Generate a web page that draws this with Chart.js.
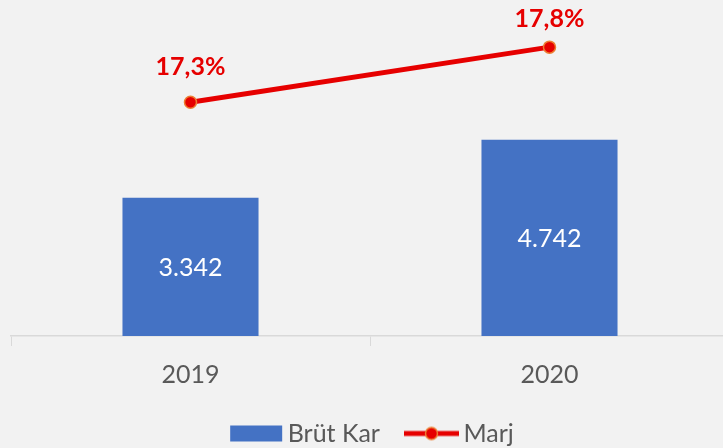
<!DOCTYPE html>
<html>
<head>
<meta charset="utf-8">
<script src="https://cdn.jsdelivr.net/npm/chart.js@4"></script>
<style>
  html, body { margin: 0; padding: 0; background: #f2f2f2; overflow: hidden; }
  #chart { display: block; }
</style>
</head>
<body>
<!-- eksen cizgisi sag kenardan tasiyor, bu yuzden tuval biraz genis -->
<canvas id="chart" width="729" height="448"></canvas>
<script>
// veriler
const years = ['2019', '2020'];
const brutKar = [3342, 4742];
const marj = [17.3, 17.8];

const FONT = 'Lato, "Open Sans", sans-serif';

// lejant ikonlari (sag tarafa yaslanmis, solda bos alan)
const ICON_W = 83;
function makeIcon(kind) {
    let c = document.createElement('canvas');
    c.width = ICON_W;
    c.height = 18;
    let g = c.getContext('2d');
    if (kind == 'bar') {
        g.fillStyle = '#4472c4';
        g.fillRect(ICON_W - 53, 1, 52, 16);
    } else {
        g.strokeStyle = '#e60000';
        g.lineWidth = 5;
        g.beginPath();
        g.moveTo(ICON_W - 55, 9);
        g.lineTo(ICON_W, 9);
        g.stroke();
        g.beginPath();
        g.arc(ICON_W - 27.5, 9, 6, 0, Math.PI * 2);
        g.fillStyle = '#e60000';
        g.fill();
        g.lineWidth = 1.5;
        g.strokeStyle = '#ed7d31';
        g.stroke();
    }
    return c;
}
const barIcon = makeIcon('bar');
const lineIcon = makeIcon('line');

// veri etiketleri
const labelPlugin = {
    id: 'labels',
    afterLayout(chart) {
        // lejanti biraz sola kaydir
        chart.legend.left -= 9;
        chart.legend.right -= 9;
    },
    afterDatasetsDraw(chart) {
        let ctx = chart.ctx;
        ctx.save();
        ctx.textAlign = 'center';
        ctx.textBaseline = 'middle';

        let bars = chart.getDatasetMeta(0).data;
        ctx.fillStyle = '#ffffff';
        ctx.font = '25px ' + FONT;
        bars.forEach(function(b, i) {
            let txt = brutKar[i].toLocaleString('tr-TR');
            ctx.fillText(txt, b.x, (b.y + b.base) / 2 + 1);
        });

        let pts = chart.getDatasetMeta(1).data;
        ctx.fillStyle = '#e60000';
        ctx.font = 'bold 25px ' + FONT;
        pts.forEach(function(p, i) {
            let txt = marj[i].toFixed(1).replace('.', ',') + '%';
            // grafik alaninin disina tasmasin
            let y = Math.max(p.y - 35, chart.chartArea.top + 14);
            ctx.fillText(txt, p.x, y);
        });
        ctx.restore();
    }
};

let ctx = document.getElementById('chart').getContext('2d');
let chart = new Chart(ctx, {
    data: {
        labels: years,
        datasets: [{
            type: 'bar',
            label: 'Brüt Kar',
            data: brutKar,
            backgroundColor: '#4472c4',
            yAxisID: 'y',
            barPercentage: 0.379,
            categoryPercentage: 1,
            order: 2
        }, {
            type: 'line',
            label: 'Marj',
            data: marj,
            borderColor: '#e60000',
            borderWidth: 5,
            pointRadius: 6,
            pointBackgroundColor: '#e60000',
            pointBorderColor: '#ed7d31',
            pointBorderWidth: 1.5,
            yAxisID: 'y1',
            order: 1
        }]
    },
    options: {
        responsive: false,
        animation: false,
        devicePixelRatio: 1,
        layout: {
            autoPadding: false,
            padding: { top: 5, left: 11, right: 0, bottom: -8 }
        },
        scales: {
            x: {
                offset: true,
                grid: {
                    offset: true,
                    drawOnChartArea: false,
                    drawTicks: true,
                    tickLength: 10,
                    color: '#d9d9d9'
                },
                border: { color: '#d9d9d9', width: 1.5 },
                ticks: {
                    color: '#595959',
                    font: { family: FONT, size: 25 },
                    padding: 14
                },
                afterFit: function(scale) {
                    scale.height = 81;
                }
            },
            y: {
                display: false,
                min: 0,
                max: 8000
            },
            y1: {
                display: false,
                min: 15.182,
                max: 18.182
            }
        },
        plugins: {
            tooltip: { enabled: false },
            legend: {
                position: 'bottom',
                labels: {
                    usePointStyle: true,
                    pointStyleWidth: ICON_W - 16,
                    padding: 4,
                    color: '#595959',
                    font: { family: FONT, size: 25 },
                    generateLabels: function(chart) {
                        let items = Chart.defaults.plugins.legend.labels.generateLabels(chart);
                        items.sort(function(a, b) { return a.datasetIndex - b.datasetIndex; });
                        items[0].pointStyle = barIcon;
                        items[1].pointStyle = lineIcon;
                        return items;
                    }
                }
            }
        }
    },
    plugins: [labelPlugin]
});
</script>
</body>
</html>
